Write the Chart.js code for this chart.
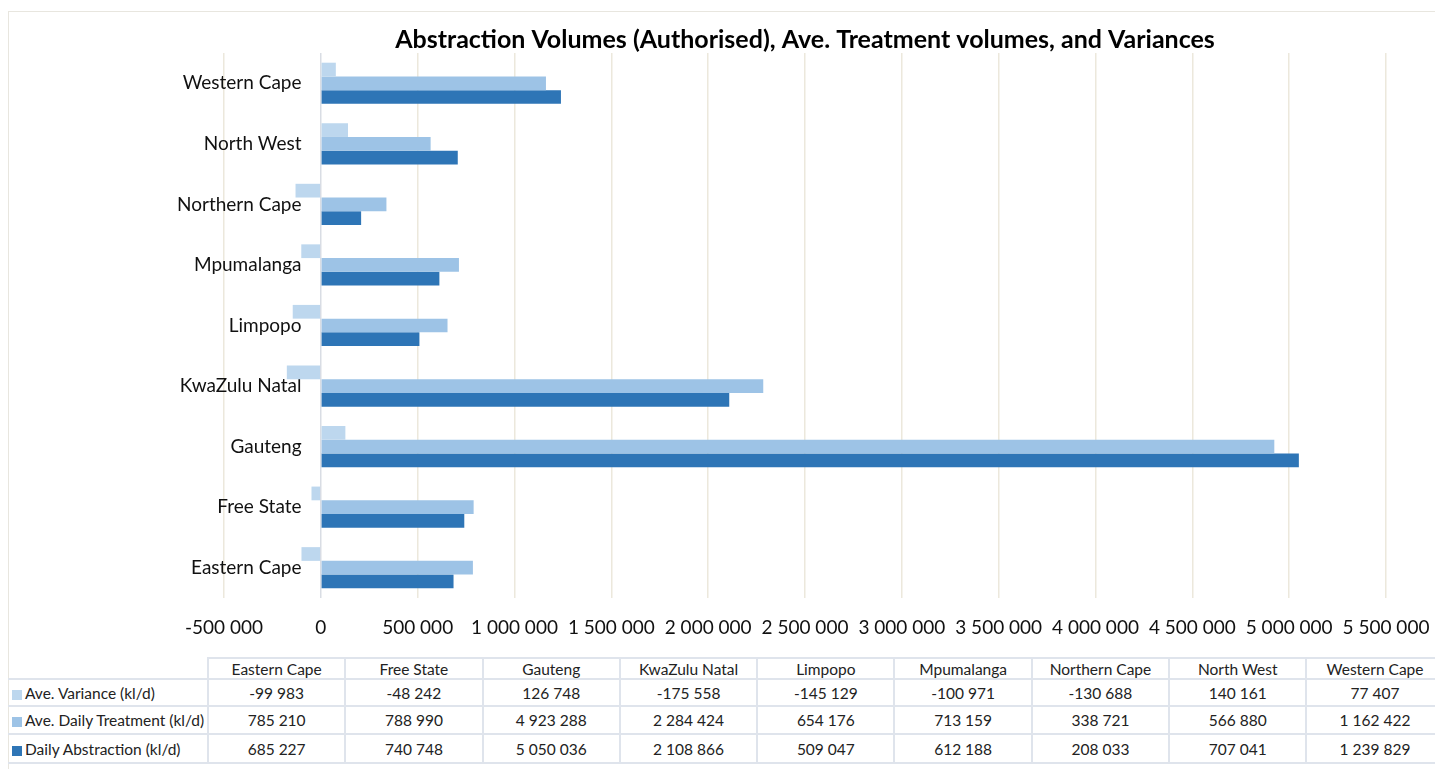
<!DOCTYPE html>
<html>
<head>
<meta charset="utf-8">
<script src="https://cdn.jsdelivr.net/npm/chart.js@4.4.1/dist/chart.umd.min.js"></script>
<style>
    body { margin: 0; background: #fff; font-family: Lato, "Open Sans", sans-serif; }
    #wrap { position: relative; width: 1435px; height: 769px; overflow: hidden; }
    #frame { position: absolute; left: 8px; top: 11px; width: 1440px; height: 770px; border: 1px solid #e8e6df; box-sizing: border-box; }
    #myChart { position: absolute; left: 0; top: 0; }
    #dataTable { position: absolute; left: 8px; top: 657px; border-collapse: collapse; table-layout: fixed; font-size: 15.5px; color: #222; }
    #dataTable td { border: 2px solid #dfe4ec; text-align: center; padding: 0; white-space: nowrap; overflow: hidden; }
    #dataTable td.lbl { text-align: left; border-left: none; padding-left: 4px; }
    #dataTable td.empty { border-top: none; border-left: none; }
    .mark { display: inline-block; width: 10px; height: 10px; margin-right: 3px; vertical-align: -1px; }
</style>
</head>
<body>
<div id="wrap">
    <div id="frame"></div>
    <canvas id="myChart" width="1435" height="650"></canvas>
    <table id="dataTable"></table>
</div>
<script>
// Dữ liệu
const provinces = ["Eastern Cape", "Free State", "Gauteng", "KwaZulu Natal", "Limpopo", "Mpumalanga", "Northern Cape", "North West", "Western Cape"];
const aveVariance = [-99983, -48242, 126748, -175558, -145129, -100971, -130688, 140161, 77407];
const aveTreatment = [785210, 788990, 4923288, 2284424, 654176, 713159, 338721, 566880, 1162422];
const dailyAbstraction = [685227, 740748, 5050036, 2108866, 509047, 612188, 208033, 707041, 1239829];
const seriesNames = ["Ave. Variance (kl/d)", "Ave. Daily Treatment (kl/d)", "Daily Abstraction (kl/d)"];
const seriesColors = ["#bdd7ee", "#9dc3e6", "#2e75b6"];
const xMin = -500000;
const xMax = 5500000;
const xStep = 500000;

// Định dạng số với dấu cách hàng nghìn
function formatNumber(v) {
    const s = String(Math.abs(Math.round(v))).replace(/\B(?=(\d{3})+(?!\d))/g, " ");
    return v < 0 ? "-" + s : s;
}

const allSeries = [aveVariance, aveTreatment, dailyAbstraction];

const ctx = document.getElementById("myChart").getContext("2d");
const chart = new Chart(ctx, {
    type: "bar",
    data: {
        labels: provinces,
        datasets: allSeries.map((values, i) => ({
            label: seriesNames[i],
            data: values,
            backgroundColor: seriesColors[i],
            borderWidth: 0,
            categoryPercentage: 0.68,
            barPercentage: 1.0
        }))
    },
    options: {
        indexAxis: "y",
        responsive: false,
        animation: false,
        layout: { padding: { left: 0, right: 49, top: 13, bottom: 0 } },
        plugins: {
            legend: { display: false },
            tooltip: { enabled: false },
            title: {
                display: true,
                fullSize: false,
                text: "Abstraction Volumes (Authorised), Ave. Treatment volumes, and Variances",
                color: "#000",
                font: { family: "Lato", size: 25, weight: "bold" },
                padding: { top: 12, bottom: -2 }
            }
        },
        scales: {
            x: {
                min: xMin,
                max: xMax,
                afterFit: (s) => {
                    s.height = 52;
                    // để layout padding quyết định lề phải
                    s.paddingRight = 0;
                    s.paddingLeft = 0;
                },
                border: { display: false },
                grid: {
                    drawTicks: false,
                    lineWidth: 1.5,
                    color: (c) => (c.tick && c.tick.value === 0 ? "#d9dde4" : "#ece8dc")
                },
                ticks: {
                    stepSize: xStep,
                    autoSkip: false,
                    maxRotation: 0,
                    padding: 18,
                    color: "#111",
                    font: { family: "Lato", size: 19 },
                    callback: (v) => formatNumber(v)
                }
            },
            y: {
                reverse: true,
                afterFit: (s) => { s.width = 224; },
                border: { display: false },
                grid: { display: false, drawTicks: false },
                ticks: {
                    // nhãn nằm sát trục 0 như Excel (mirror để không bị cắt)
                    mirror: true,
                    crossAlign: "far",
                    padding: -47,
                    color: "#111",
                    font: { family: "Lato", size: 19 }
                }
            }
        }
    }
});

// Bảng dữ liệu bên dưới biểu đồ
const table = document.getElementById("dataTable");
const colWidths = [200].concat(provinces.map(() => 137.3));
let html = "<colgroup>" + colWidths.map(w => `<col style="width:${w}px">`).join("") + "</colgroup>";
html += `<tr style="height:21px"><td class="empty"></td>` + provinces.map(p => `<td>${p}</td>`).join("") + "</tr>";
const rowHeights = [27, 28, 29];
allSeries.forEach((values, i) => {
    html += `<tr style="height:${rowHeights[i]}px"><td class="lbl"><span class="mark" style="background:${seriesColors[i]}"></span>${seriesNames[i]}</td>`;
    html += values.map(v => `<td>${formatNumber(v)}</td>`).join("") + "</tr>";
});
table.innerHTML = html;
table.style.width = colWidths.reduce((a, b) => a + b, 0) + "px";
</script>
</body>
</html>
